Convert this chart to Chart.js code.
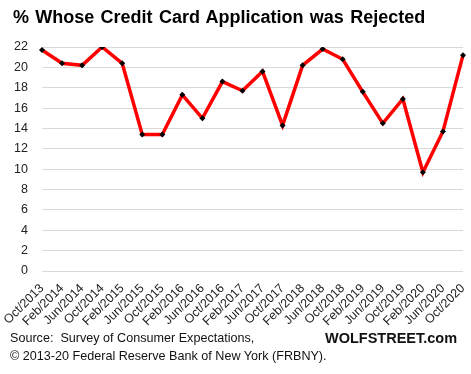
<!DOCTYPE html>
<html>
<head>
<meta charset="utf-8">
<script src="https://cdn.jsdelivr.net/npm/chart.js@4"></script>
<style>
  body { margin: 0; background: #fff; }
  #wrap { position: relative; width: 471px; height: 374px; }
  #title { position: absolute; left: 13px; top: 7px; font: bold 18px "Liberation Sans", Arial, sans-serif; color: #000; word-spacing: 1.3px; white-space: nowrap; }
  .foot { position: absolute; left: 10px; font: 12.6px "Liberation Sans", Arial, sans-serif; color: #111; white-space: nowrap; }
  #brand { position: absolute; left: 325px; top: 330px; font: bold 14.5px "Liberation Sans", Arial, sans-serif; color: #111; }
</style>
</head>
<body>
<div id="wrap">
  <canvas id="rejected" width="471" height="374"></canvas>
  <div id="title">% Whose Credit Card Application was Rejected</div>
  <div class="foot" style="top:331px">Source:&nbsp; Survey of Consumer Expectations,</div>
  <div class="foot" style="top:349px">© 2013-20 Federal Reserve Bank of New York (FRBNY).</div>
  <div id="brand">WOLFSTREET.com</div>
</div>
<script>
var months = ["Oct/2013", "Feb/2014", "Jun/2014", "Oct/2014", "Feb/2015", "Jun/2015", "Oct/2015", "Feb/2016",
    "Jun/2016", "Oct/2016", "Feb/2017", "Jun/2017", "Oct/2017", "Feb/2018", "Jun/2018", "Oct/2018",
    "Feb/2019", "Jun/2019", "Oct/2019", "Feb/2020", "Jun/2020", "Oct/2020"];
var rejected = [21.7, 20.4, 20.2, 22.0, 20.4, 13.4, 13.4, 17.3, 15.0, 18.6, 17.7,
    19.6, 14.3, 20.2, 21.8, 20.8, 17.6, 14.5, 16.9, 9.7, 13.7, 21.2];
var yTicks = [0, 2, 4, 6, 8, 10, 12, 14, 16, 18, 20, 22];

var ctx = document.getElementById('rejected').getContext('2d');
var myChart = new Chart(ctx, {
    type: 'line',
    data: {
        labels: months,
        datasets: [{
            label: '% rejected',
            data: rejected,
            borderColor: '#ff0000',
            borderWidth: 3.5,
            tension: 0,
            pointStyle: 'rectRot',
            pointRadius: 3,
            pointBackgroundColor: '#000',
            pointBorderColor: '#000',
            pointBorderWidth: 0
        }]
    },
    options: {
        responsive: false,
        animation: false,
        layout: { padding: { top: 47, left: 12, right: 8, bottom: 43 } },
        plugins: { legend: { display: false }, tooltip: { enabled: false } },
        scales: {
            x: {
                offset: false,
                grid: { display: false, drawTicks: false },
                border: { display: false },
                ticks: {
                    autoSkip: false, minRotation: 45, maxRotation: 45, padding: 10,
                    color: '#222', font: { family: 'Liberation Sans', size: 12.5 }
                },
                afterFit: function(s) {
                    s.height = 60;
                    s.paddingLeft = 0;
                    s.paddingRight = 0;
                }
            },
            y: {
                min: 0, max: 22,
                afterBuildTicks: function(s) { s.ticks = yTicks.map(function(v) { return { value: v }; }); },
                grid: { color: '#d9d9d9', lineWidth: 1, drawTicks: false },
                border: { display: false },
                ticks: {
                    padding: 14, color: '#222', font: { family: 'Liberation Sans', size: 12.5 }
                },
                afterFit: function(s) { s.width = 30; }
            }
        }
    }
});
</script>
</body>
</html>
